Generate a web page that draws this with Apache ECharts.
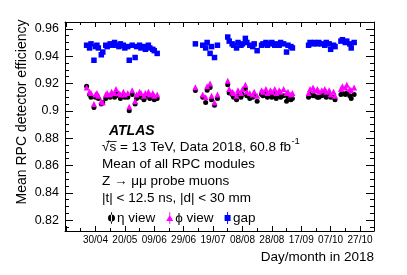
<!DOCTYPE html>
<html><head><meta charset="utf-8">
<script src="https://cdn.jsdelivr.net/npm/echarts@6/dist/echarts.min.js"></script>
<style>html,body{margin:0;padding:0;background:#fff}#c{width:407px;height:275px}</style>
</head><body><div id="c"></div>
<script>
// Day of year 2018 of each run
const runDays = [114,116,117,119,120,121,122,124,125,127,128,130,131,133,134,136,137,139,140,142,143,145,147,148,150,151,153,154,156,157,159,160,162,
  188,
  193,195,196,198,199,201,203,
  210,211,213,214,216,217,219,220,222,223,225,227,228,230,
  233,234,236,237,239,240,242,243,245,246,248,250,251,253,254,
  265,266,268,269,271,272,274,276,277,279,280,282,283,
  287,288,290,291,293,294,296];
const etaEff = [0.918,0.912,0.910,0.9025,0.910,0.911,0.909,0.905,0.906,0.909,0.911,0.910,0.911,0.910,0.913,0.911,0.909,0.911,0.910,0.910,0.900,0.912,0.905,0.909,0.911,0.910,0.908,0.910,0.911,0.909,0.910,0.908,0.909,
  0.9148,
  0.910,0.906,0.915,0.917,0.908,0.904,0.909,
  0.919,0.913,0.912,0.910,0.908,0.911,0.910,0.912,0.916,0.911,0.909,0.910,0.911,0.907,
  0.912,0.911,0.913,0.910,0.911,0.910,0.912,0.909,0.911,0.910,0.911,0.907,0.910,0.908,0.909,
  0.910,0.912,0.911,0.911,0.910,0.910,0.911,0.912,0.910,0.911,0.910,0.910,0.908,
  0.912,0.913,0.912,0.913,0.911,0.909,0.912];
const phiEff = [0.917,0.914,0.913,0.905,0.912,0.913,0.911,0.907,0.906,0.912,0.913,0.912,0.914,0.913,0.916,0.913,0.912,0.914,0.912,0.913,0.903,0.915,0.907,0.912,0.914,0.913,0.911,0.913,0.914,0.912,0.913,0.911,0.912,
  0.9173,
  0.912,0.910,0.918,0.920,0.911,0.906,0.912,
  0.922,0.916,0.914,0.913,0.911,0.915,0.913,0.916,0.919,0.914,0.913,0.912,0.914,0.911,
  0.915,0.914,0.916,0.913,0.915,0.914,0.916,0.913,0.915,0.914,0.916,0.913,0.914,0.912,0.913,
  0.913,0.916,0.917,0.915,0.916,0.914,0.915,0.916,0.914,0.915,0.912,0.914,0.911,
  0.916,0.918,0.917,0.919,0.916,0.915,0.917];
const gapEff = [0.948,0.946,0.949,0.937,0.947,0.948,0.946,0.941,0.943,0.948,0.947,0.949,0.948,0.950,0.948,0.947,0.949,0.948,0.946,0.947,0.937,0.948,0.939,0.947,0.948,0.946,0.947,0.945,0.948,0.946,0.945,0.944,0.942,
  0.949,
  0.948,0.946,0.950,0.942,0.947,0.939,0.948,
  0.954,0.951,0.949,0.948,0.946,0.950,0.948,0.949,0.953,0.950,0.948,0.947,0.949,0.944,
  0.948,0.949,0.950,0.948,0.949,0.950,0.948,0.949,0.948,0.950,0.949,0.943,0.948,0.947,0.946,
  0.948,0.950,0.949,0.950,0.949,0.950,0.949,0.948,0.950,0.949,0.945,0.948,0.947,
  0.951,0.952,0.950,0.951,0.949,0.946,0.950];
const tickDays = [120,140,160,180,200,220,240,260,280,300];
const tickLabels = ['30/04','20/05','09/06','29/06','19/07','08/08','28/08','17/09','07/10','27/10'];
const seriesNames = ['η view','ϕ view','gap'];

const FONT = 'Liberation Sans, Arial, Helvetica, sans-serif';
const TXT = '13.5px ' + FONT;
const chart = echarts.init(document.getElementById('c'), null, {renderer:'canvas'});
function xFmt(v){
  const r = Math.round(v);
  if (Math.abs(v - r) > 1e-6) return '';
  const i = tickDays.indexOf(r);
  return i >= 0 ? tickLabels[i] : '';
}
function yFmt(v){
  const r = Math.round(v*50);
  if (Math.abs(v*50 - r) > 1e-6) return '';
  return String(+(r/50).toFixed(2));
}
const mctx = document.createElement('canvas').getContext('2d');
mctx.font = TXT;
const lumiText = '√s = 13 TeV, Data 2018, 60.8 fb';
const lumiW = mctx.measureText(lumiText).width;
const rootW = mctx.measureText('√').width;
const sW = mctx.measureText('s').width;

const xCommon = {type:'value', min:99.3, max:309.5, splitNumber:10, minInterval:20, maxInterval:20,
  axisLine:{show:true, onZero:false, lineStyle:{color:'#000', width:1}},
  splitLine:{show:false}};
const yCommon = {type:'value', min:0.812, max:0.965, splitNumber:8, minInterval:0.02, maxInterval:0.02,
  axisLine:{show:true, onZero:false, lineStyle:{color:'#000', width:1}},
  splitLine:{show:false}};
const icons = {
  eta: 'path://M0,5 A3,3 0 1,0 6,5 A3,3 0 1,0 0,5 Z M2.6,0 L3.4,0 L3.4,10 L2.6,10 Z',
  phi: 'path://M0,7.5 L3,2.5 L6,7.5 Z M2.6,0 L3.4,0 L3.4,10 L2.6,10 Z',
  gap: 'path://M0.5,2.5 L5.5,2.5 L5.5,7.5 L0.5,7.5 Z M2.6,0 L3.4,0 L3.4,10 L2.6,10 Z'
};
const option = {
  animation:false,
  backgroundColor:'#fff',
  grid:{left:65, right:33, top:22, bottom:44, containLabel:false},
  xAxis:[
    Object.assign({}, xCommon, {position:'bottom',
      axisTick:{show:true, inside:true, length:5, lineStyle:{color:'#000'}},
      minorTick:{show:true, splitNumber:2, length:3, lineStyle:{color:'#000'}},
      axisLabel:{show:true, formatter:xFmt, color:'#000', fontSize:10, fontFamily:FONT, margin:4, showMinLabel:true, showMaxLabel:true}}),
    Object.assign({}, xCommon, {position:'top',
      axisTick:{show:true, inside:true, length:5, lineStyle:{color:'#000'}},
      minorTick:{show:true, splitNumber:2, length:3, lineStyle:{color:'#000'}},
      axisLabel:{show:false}})
  ],
  yAxis:[
    Object.assign({}, yCommon, {position:'left',
      axisTick:{show:true, inside:true, length:8, lineStyle:{color:'#000'}},
      minorTick:{show:true, splitNumber:4, length:4, lineStyle:{color:'#000'}},
      axisLabel:{show:true, formatter:yFmt, color:'#000', fontSize:12.5, fontFamily:FONT, margin:6}}),
    Object.assign({}, yCommon, {position:'right',
      axisTick:{show:true, inside:true, length:8, lineStyle:{color:'#000'}},
      minorTick:{show:true, splitNumber:4, length:4, lineStyle:{color:'#000'}},
      axisLabel:{show:false}})
  ],
  legend:{
    left:103, top:206, orient:'horizontal', itemWidth:7, itemHeight:12, itemGap:11,
    textStyle:{color:'#000', fontSize:13.5, fontFamily:FONT, padding:[0,0,0,-3]},
    data:[
      {name:seriesNames[0], icon:icons.eta, itemStyle:{color:'#000'}},
      {name:seriesNames[1], icon:icons.phi, itemStyle:{color:'#ff00ff'}},
      {name:seriesNames[2], icon:icons.gap, itemStyle:{color:'#0000ff'}}
    ]
  },
  series:[
    {name:seriesNames[0], type:'scatter', symbol:'circle', symbolSize:5,
      itemStyle:{color:'#000', opacity:1}, data: runDays.map((d,i)=>[d, etaEff[i]])},
    {name:seriesNames[1], type:'scatter', symbol:'triangle', symbolSize:6,
      itemStyle:{color:'#ff00ff', opacity:1}, data: runDays.map((d,i)=>[d, phiEff[i]])},
    {name:seriesNames[2], type:'scatter', symbol:'rect', symbolSize:5.5,
      itemStyle:{color:'#0000ff', opacity:1}, data: runDays.map((d,i)=>[d, gapEff[i]])}
  ],
  graphic:[
    {type:'text', left:109, top:124, style:{text:'ATLAS', font:'italic bold 14px '+FONT, fill:'#000'}},
    {type:'text', left:102, top:140, style:{text:lumiText, font:TXT, fill:'#000'}},
    {type:'line', shape:{x1:102+rootW*0.6, y1:141.5, x2:102+rootW+sW+0.5, y2:141.5}, style:{stroke:'#000', lineWidth:0.8}},
    {type:'text', left:102+lumiW+0.5, top:136, style:{text:'-1', font:'9.5px '+FONT, fill:'#000'}},
    {type:'text', left:102, top:157, style:{text:'Mean of all RPC modules', font:TXT, fill:'#000'}},
    {type:'text', left:102, top:174, style:{text:'Z → μμ probe muons', font:TXT, fill:'#000'}},
    {type:'text', left:102, top:191, style:{text:'|t| < 12.5 ns, |d| < 30 mm', font:TXT, fill:'#000'}},
    {type:'text', x:22, y:112, rotation:Math.PI/2, style:{text:'Mean RPC detector efficiency', font:'14px '+FONT, fill:'#000', align:'center', verticalAlign:'middle'}},
    {type:'text', right:33, top:250, style:{text:'Day/month in 2018', font:'13.5px '+FONT, fill:'#000'}}
  ]
};
chart.setOption(option);
</script></body></html>
